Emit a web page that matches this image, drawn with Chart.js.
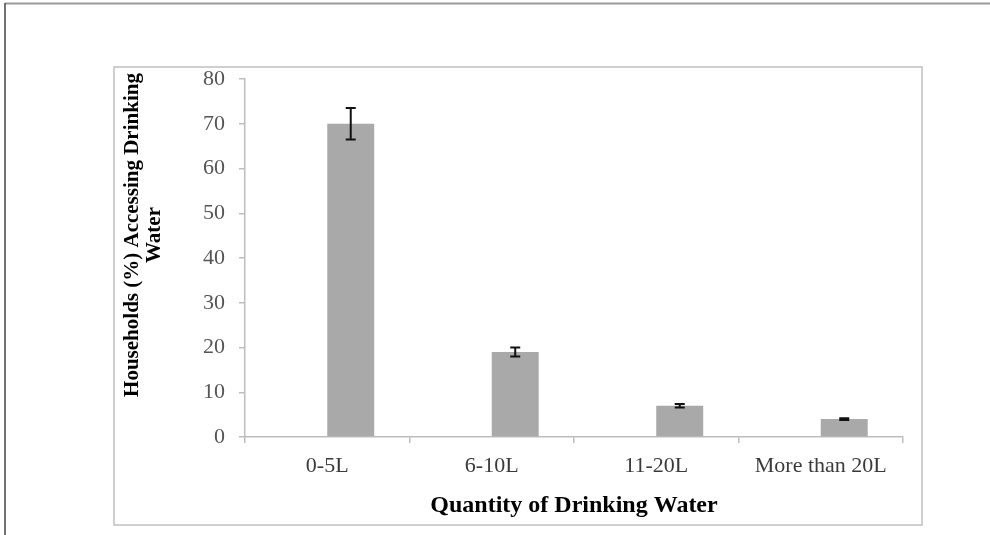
<!DOCTYPE html>
<html lang="en">
<head>
  <meta charset="UTF-8" />
  <title>Households Accessing Drinking Water</title>
  <script src="https://cdn.jsdelivr.net/npm/chart.js"></script>
  <style>
    html, body { margin: 0; padding: 0; background: #fff; }
    #wrap { width: 990px; height: 535px; position: relative; }
  </style>
</head>
<body>
  <div id="wrap"><canvas id="waterChart"></canvas></div>
  <script>
    const categories = ['0-5L', '6-10L', '11-20L', 'More than 20L'];
    const households = [70, 19, 7, 4];
    const errors = [3.5, 1, 0.4, 0.2];
    const yTicks = [0, 10, 20, 30, 40, 50, 60, 70, 80];
    const yTitle = ['Households (%) Accessing Drinking', 'Water'];
    const xTitle = 'Quantity of Drinking Water';

    const serif = '"Liberation Serif", "Times New Roman", serif';

    // frames round the picture and the chart
    const framePlugin = {
      id: 'frames',
      beforeDraw(chart) {
        const ctx = chart.ctx;
        ctx.save();
        ctx.strokeStyle = '#9a9a9a';
        ctx.lineWidth = 2;
        ctx.beginPath(); ctx.moveTo(5, 3.5); ctx.lineTo(990, 3.5); ctx.stroke();
        ctx.strokeStyle = '#444';
        ctx.lineWidth = 1.5;
        ctx.beginPath(); ctx.moveTo(5, 3); ctx.lineTo(5, 535); ctx.stroke();
        ctx.strokeStyle = '#c0c0c0';
        ctx.lineWidth = 1.5;
        ctx.strokeRect(114, 67, 808, 458);
        ctx.restore();
      },
      afterDraw(chart) {
        // y title, two lines rotated
        const ctx = chart.ctx;
        ctx.save();
        ctx.translate(133, 235);
        ctx.rotate(-Math.PI / 2);
        ctx.font = 'bold 21px ' + serif;
        ctx.fillStyle = '#000';
        ctx.textAlign = 'center';
        ctx.textBaseline = 'middle';
        yTitle.forEach((line, i) => ctx.fillText(line, 0, i * 22));
        ctx.restore();
      }
    };

    const errorBarPlugin = {
      id: 'errorBars',
      afterDatasetsDraw(chart) {
        const ctx = chart.ctx;
        const y = chart.scales.y;
        const meta = chart.getDatasetMeta(1);
        ctx.save();
        ctx.strokeStyle = '#111';
        ctx.lineWidth = 2;
        meta.data.forEach((bar, i) => {
          const top = y.getPixelForValue(households[i] + errors[i]);
          const bot = y.getPixelForValue(households[i] - errors[i]);
          const x = bar.x;
          ctx.beginPath();
          ctx.moveTo(x, top); ctx.lineTo(x, bot);
          ctx.moveTo(x - 5, top); ctx.lineTo(x + 5, top);
          ctx.moveTo(x - 5, bot); ctx.lineTo(x + 5, bot);
          ctx.stroke();
        });
        ctx.restore();
      }
    };

    const ctx = document.getElementById('waterChart').getContext('2d');
    const chart = new Chart(ctx, {
      type: 'bar',
      data: {
        labels: categories,
        datasets: [
          { label: '', data: categories.map(() => null) },
          {
            label: 'Households',
            data: households,
            backgroundColor: '#a9a9a9',
            borderWidth: 0
          }
        ]
      },
      options: {
        responsive: true,
        maintainAspectRatio: false,
        animation: false,
        categoryPercentage: 0.571,
        barPercentage: 1,
        layout: { padding: { left: 114, top: 79, right: 87, bottom: 10 } },
        plugins: { legend: { display: false }, tooltip: { enabled: false } },
        scales: {
          x: {
            grid: { drawOnChartArea: false, color: '#bdbdbd', tickLength: 6, lineWidth: 1.5 },
            border: { color: '#bdbdbd', width: 1.5 },
            ticks: { color: '#3a3a3a', font: { family: serif, size: 22 }, padding: 10, maxRotation: 0 },
            title: { display: true, text: xTitle, color: '#000', font: { family: serif, size: 24, weight: 'bold' }, padding: { top: 6, bottom: 5 } },
            afterFit(scale) { scale.height = 88; }
          },
          y: {
            min: 0,
            max: 80,
            afterBuildTicks(scale) { scale.ticks = yTicks.map(v => ({ value: v })); },
            grid: { drawOnChartArea: false, color: '#bdbdbd', tickLength: 6, lineWidth: 1.5 },
            border: { color: '#bdbdbd', width: 1.5 },
            ticks: { color: '#555', font: { family: serif, size: 22 }, padding: 14 },
            afterFit(scale) { scale.width = 131; }
          }
        }
      },
      plugins: [framePlugin, errorBarPlugin]
    });
  </script>
</body>
</html>
